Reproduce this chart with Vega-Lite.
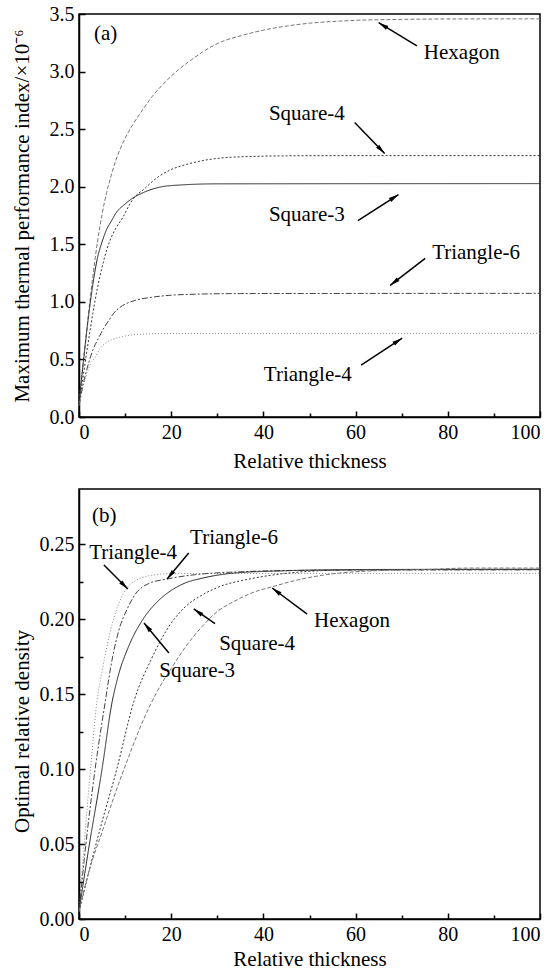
{
  "$schema": "https://vega.github.io/schema/vega-lite/v6.json",
  "background": "white",
  "padding": {"left": 10, "top": 3, "right": 2, "bottom": 0},
  "spacing": 72,
  "bounds": "flush",
  "config": {
    "view": {"stroke": "black", "strokeWidth": 1.5},
    "font": "Liberation Serif",
    "axis": {
      "grid": false,
      "domainColor": "black",
      "domainWidth": 1.5,
      "tickColor": "black",
      "tickWidth": 1.5,
      "labelFont": "Liberation Serif",
      "labelFontSize": 20,
      "labelColor": "black",
      "titleFont": "Liberation Serif",
      "titleFontSize": 21,
      "titleFontWeight": "normal",
      "titleColor": "black",
      "labelPadding": 11
    }
  },
  "datasets": {
    "curvesA": [
      {"s": "Hexagon", "x": 0, "y": 0.12}, {"s": "Hexagon", "x": 1, "y": 0.5}, {"s": "Hexagon", "x": 2, "y": 0.88}, {"s": "Hexagon", "x": 3, "y": 1.22}, {"s": "Hexagon", "x": 4, "y": 1.52}, {"s": "Hexagon", "x": 5, "y": 1.76}, {"s": "Hexagon", "x": 6, "y": 1.95}, {"s": "Hexagon", "x": 7, "y": 2.1}, {"s": "Hexagon", "x": 8, "y": 2.23}, {"s": "Hexagon", "x": 10, "y": 2.42}, {"s": "Hexagon", "x": 12, "y": 2.56}, {"s": "Hexagon", "x": 14, "y": 2.68}, {"s": "Hexagon", "x": 16, "y": 2.79}, {"s": "Hexagon", "x": 18, "y": 2.88}, {"s": "Hexagon", "x": 20, "y": 2.96}, {"s": "Hexagon", "x": 22, "y": 3.03}, {"s": "Hexagon", "x": 25, "y": 3.12}, {"s": "Hexagon", "x": 28, "y": 3.2}, {"s": "Hexagon", "x": 31, "y": 3.26}, {"s": "Hexagon", "x": 35, "y": 3.31}, {"s": "Hexagon", "x": 40, "y": 3.36}, {"s": "Hexagon", "x": 45, "y": 3.395}, {"s": "Hexagon", "x": 50, "y": 3.42}, {"s": "Hexagon", "x": 55, "y": 3.435}, {"s": "Hexagon", "x": 60, "y": 3.445}, {"s": "Hexagon", "x": 70, "y": 3.453}, {"s": "Hexagon", "x": 80, "y": 3.457}, {"s": "Hexagon", "x": 100, "y": 3.458},
      {"s": "Square-4", "x": 0, "y": 0.1}, {"s": "Square-4", "x": 1, "y": 0.38}, {"s": "Square-4", "x": 2, "y": 0.65}, {"s": "Square-4", "x": 3, "y": 0.9}, {"s": "Square-4", "x": 4, "y": 1.12}, {"s": "Square-4", "x": 5, "y": 1.3}, {"s": "Square-4", "x": 6, "y": 1.45}, {"s": "Square-4", "x": 7, "y": 1.56}, {"s": "Square-4", "x": 8, "y": 1.64}, {"s": "Square-4", "x": 9.3, "y": 1.72}, {"s": "Square-4", "x": 11.5, "y": 1.88}, {"s": "Square-4", "x": 14.4, "y": 1.99}, {"s": "Square-4", "x": 17, "y": 2.08}, {"s": "Square-4", "x": 19.5, "y": 2.14}, {"s": "Square-4", "x": 23, "y": 2.19}, {"s": "Square-4", "x": 26.7, "y": 2.226}, {"s": "Square-4", "x": 31, "y": 2.25}, {"s": "Square-4", "x": 37, "y": 2.262}, {"s": "Square-4", "x": 45, "y": 2.268}, {"s": "Square-4", "x": 60, "y": 2.27}, {"s": "Square-4", "x": 100, "y": 2.27},
      {"s": "Square-3", "x": 0, "y": 0.12}, {"s": "Square-3", "x": 1, "y": 0.5}, {"s": "Square-3", "x": 2, "y": 0.85}, {"s": "Square-3", "x": 3, "y": 1.15}, {"s": "Square-3", "x": 4, "y": 1.38}, {"s": "Square-3", "x": 5, "y": 1.52}, {"s": "Square-3", "x": 6, "y": 1.63}, {"s": "Square-3", "x": 7, "y": 1.7}, {"s": "Square-3", "x": 8, "y": 1.77}, {"s": "Square-3", "x": 10, "y": 1.85}, {"s": "Square-3", "x": 12, "y": 1.91}, {"s": "Square-3", "x": 14, "y": 1.95}, {"s": "Square-3", "x": 16, "y": 1.98}, {"s": "Square-3", "x": 18, "y": 2.0}, {"s": "Square-3", "x": 22, "y": 2.015}, {"s": "Square-3", "x": 30, "y": 2.025}, {"s": "Square-3", "x": 100, "y": 2.027},
      {"s": "Triangle-6", "x": 0, "y": 0.1}, {"s": "Triangle-6", "x": 1, "y": 0.3}, {"s": "Triangle-6", "x": 2.1, "y": 0.47}, {"s": "Triangle-6", "x": 3, "y": 0.58}, {"s": "Triangle-6", "x": 4.3, "y": 0.69}, {"s": "Triangle-6", "x": 5.5, "y": 0.78}, {"s": "Triangle-6", "x": 6.5, "y": 0.84}, {"s": "Triangle-6", "x": 7.5, "y": 0.9}, {"s": "Triangle-6", "x": 8.6, "y": 0.944}, {"s": "Triangle-6", "x": 10, "y": 0.98}, {"s": "Triangle-6", "x": 12.2, "y": 1.013}, {"s": "Triangle-6", "x": 15.8, "y": 1.04}, {"s": "Triangle-6", "x": 20, "y": 1.058}, {"s": "Triangle-6", "x": 25, "y": 1.066}, {"s": "Triangle-6", "x": 35, "y": 1.072}, {"s": "Triangle-6", "x": 100, "y": 1.074},
      {"s": "Triangle-4", "x": 0, "y": 0.1}, {"s": "Triangle-4", "x": 0.8, "y": 0.25}, {"s": "Triangle-4", "x": 1.7, "y": 0.38}, {"s": "Triangle-4", "x": 2.5, "y": 0.46}, {"s": "Triangle-4", "x": 3.5, "y": 0.52}, {"s": "Triangle-4", "x": 4.5, "y": 0.59}, {"s": "Triangle-4", "x": 5.7, "y": 0.64}, {"s": "Triangle-4", "x": 7, "y": 0.67}, {"s": "Triangle-4", "x": 8.6, "y": 0.69}, {"s": "Triangle-4", "x": 11, "y": 0.71}, {"s": "Triangle-4", "x": 13.7, "y": 0.72}, {"s": "Triangle-4", "x": 20, "y": 0.725}, {"s": "Triangle-4", "x": 100, "y": 0.727}
    ],
    "curvesB": [
      {"s": "Triangle-4", "x": 0, "y": 0.005}, {"s": "Triangle-4", "x": 1, "y": 0.045}, {"s": "Triangle-4", "x": 2.5, "y": 0.1}, {"s": "Triangle-4", "x": 3.9, "y": 0.145}, {"s": "Triangle-4", "x": 5, "y": 0.165}, {"s": "Triangle-4", "x": 6.5, "y": 0.188}, {"s": "Triangle-4", "x": 8, "y": 0.205}, {"s": "Triangle-4", "x": 10.4, "y": 0.2207}, {"s": "Triangle-4", "x": 12.5, "y": 0.226}, {"s": "Triangle-4", "x": 15, "y": 0.2287}, {"s": "Triangle-4", "x": 20, "y": 0.2303}, {"s": "Triangle-4", "x": 100, "y": 0.2305},
      {"s": "Triangle-6", "x": 0, "y": 0.005}, {"s": "Triangle-6", "x": 1.5, "y": 0.05}, {"s": "Triangle-6", "x": 3.5, "y": 0.1}, {"s": "Triangle-6", "x": 5.7, "y": 0.145}, {"s": "Triangle-6", "x": 7, "y": 0.17}, {"s": "Triangle-6", "x": 8.6, "y": 0.192}, {"s": "Triangle-6", "x": 10.5, "y": 0.207}, {"s": "Triangle-6", "x": 12.2, "y": 0.2165}, {"s": "Triangle-6", "x": 15, "y": 0.2235}, {"s": "Triangle-6", "x": 19.1, "y": 0.2267}, {"s": "Triangle-6", "x": 25, "y": 0.2295}, {"s": "Triangle-6", "x": 35, "y": 0.2315}, {"s": "Triangle-6", "x": 50, "y": 0.2325}, {"s": "Triangle-6", "x": 100, "y": 0.2328},
      {"s": "Square-3", "x": 0, "y": 0.005}, {"s": "Square-3", "x": 2, "y": 0.045}, {"s": "Square-3", "x": 5, "y": 0.1}, {"s": "Square-3", "x": 7.2, "y": 0.145}, {"s": "Square-3", "x": 8.5, "y": 0.162}, {"s": "Square-3", "x": 10.8, "y": 0.182}, {"s": "Square-3", "x": 13.7, "y": 0.199}, {"s": "Square-3", "x": 16.5, "y": 0.21}, {"s": "Square-3", "x": 19.5, "y": 0.218}, {"s": "Square-3", "x": 23, "y": 0.224}, {"s": "Square-3", "x": 26.7, "y": 0.2272}, {"s": "Square-3", "x": 33.8, "y": 0.2307}, {"s": "Square-3", "x": 45, "y": 0.2322}, {"s": "Square-3", "x": 60, "y": 0.233}, {"s": "Square-3", "x": 100, "y": 0.2332},
      {"s": "Square-4", "x": 0, "y": 0.005}, {"s": "Square-4", "x": 4.3, "y": 0.057}, {"s": "Square-4", "x": 8.2, "y": 0.1}, {"s": "Square-4", "x": 11.9, "y": 0.145}, {"s": "Square-4", "x": 15.8, "y": 0.174}, {"s": "Square-4", "x": 19.5, "y": 0.195}, {"s": "Square-4", "x": 23, "y": 0.208}, {"s": "Square-4", "x": 26.7, "y": 0.216}, {"s": "Square-4", "x": 30, "y": 0.221}, {"s": "Square-4", "x": 37.5, "y": 0.227}, {"s": "Square-4", "x": 45, "y": 0.2305}, {"s": "Square-4", "x": 55, "y": 0.2325}, {"s": "Square-4", "x": 70, "y": 0.233}, {"s": "Square-4", "x": 100, "y": 0.233},
      {"s": "Hexagon", "x": 0, "y": 0.005}, {"s": "Hexagon", "x": 2, "y": 0.03}, {"s": "Hexagon", "x": 5, "y": 0.058}, {"s": "Hexagon", "x": 8, "y": 0.085}, {"s": "Hexagon", "x": 11, "y": 0.11}, {"s": "Hexagon", "x": 14, "y": 0.133}, {"s": "Hexagon", "x": 17, "y": 0.152}, {"s": "Hexagon", "x": 20, "y": 0.167}, {"s": "Hexagon", "x": 23, "y": 0.181}, {"s": "Hexagon", "x": 26.7, "y": 0.195}, {"s": "Hexagon", "x": 30, "y": 0.205}, {"s": "Hexagon", "x": 33.8, "y": 0.212}, {"s": "Hexagon", "x": 38, "y": 0.218}, {"s": "Hexagon", "x": 41.9, "y": 0.2215}, {"s": "Hexagon", "x": 46, "y": 0.225}, {"s": "Hexagon", "x": 50.5, "y": 0.228}, {"s": "Hexagon", "x": 56, "y": 0.2305}, {"s": "Hexagon", "x": 62.9, "y": 0.232}, {"s": "Hexagon", "x": 75, "y": 0.233}, {"s": "Hexagon", "x": 85, "y": 0.234}, {"s": "Hexagon", "x": 100, "y": 0.234}
    ],
    "annA": [
      {"label": "Hexagon", "tx": 74.8, "ty": 3.162, "x1": 73.3, "y1": 3.223, "x2": 65.0, "y2": 3.425, "angle": 302},
      {"label": "Square-4", "tx": 41.2, "ty": 2.633, "x1": 59.8, "y1": 2.558, "x2": 66.3, "y2": 2.289, "angle": 136},
      {"label": "Square-3", "tx": 41.2, "ty": 1.758, "x1": 60.5, "y1": 1.706, "x2": 69.3, "y2": 1.932, "angle": 57},
      {"label": "Triangle-6", "tx": 76.6, "ty": 1.42, "x1": 75.1, "y1": 1.377, "x2": 67.5, "y2": 1.143, "angle": 232},
      {"label": "Triangle-4", "tx": 40.1, "ty": 0.363, "x1": 61.2, "y1": 0.45, "x2": 70.1, "y2": 0.684, "angle": 57}
    ],
    "annB": [
      {"label": "Triangle-4", "tx": 2.2, "ty": 0.244, "x1": 5.4, "y1": 0.236, "x2": 10.6, "y2": 0.22, "angle": 135},
      {"label": "Triangle-6", "tx": 24.1, "ty": 0.254, "x1": 23.8, "y1": 0.244, "x2": 19.1, "y2": 0.2267, "angle": 220},
      {"label": "Square-3", "tx": 17.4, "ty": 0.1653, "x1": 19.5, "y1": 0.1773, "x2": 14.1, "y2": 0.1973, "angle": 320},
      {"label": "Square-4", "tx": 30.4, "ty": 0.1833, "x1": 29.5, "y1": 0.197, "x2": 24.9, "y2": 0.2067, "angle": 305},
      {"label": "Hexagon", "tx": 51, "ty": 0.1987, "x1": 49.5, "y1": 0.2033, "x2": 41.9, "y2": 0.2207, "angle": 307}
    ]
  },
  "vconcat": [
    {
      "width": 461,
      "height": 403,
      "layer": [
        {
          "data": {"name": "curvesA"},
          "mark": {"type": "line", "strokeWidth": 1, "interpolate": "monotone"},
          "encoding": {
            "x": {"field": "x", "type": "quantitative", "title": "Relative thickness",
              "scale": {"domain": [0, 100], "nice": false, "zero": false},
              "axis": {"values": [0, 10, 20, 30, 40, 50, 60, 70, 80, 90, 100],
                "labelExpr": "datum.value % 20 === 0 ? datum.label : ''",
                "tickSize": {"condition": {"test": "datum.value % 20 === 0", "value": -6}, "value": -4},
                "titleY": 44, "titleBaseline": "middle"}},
            "y": {"field": "y", "type": "quantitative", "title": "Maximum thermal performance index/×10⁻⁶",
              "scale": {"domain": [0, 3.5], "nice": false, "zero": false},
              "axis": {"values": [0, 0.25, 0.5, 0.75, 1, 1.25, 1.5, 1.75, 2, 2.25, 2.5, 2.75, 3, 3.25, 3.5],
                "labelExpr": "datum.value % 0.5 === 0 ? format(datum.value, '.1f') : ''",
                "tickSize": {"condition": {"test": "datum.value % 0.5 === 0", "value": -6}, "value": -4},
                "titleX": -57, "titleY": 201.5, "titleBaseline": "middle"}},
            "color": {"field": "s", "type": "nominal", "legend": null,
              "scale": {"domain": ["Hexagon", "Square-4", "Square-3", "Triangle-6", "Triangle-4"], "range": ["#777777", "#333333", "#222222", "#444444", "#888888"]}},
            "strokeDash": {"field": "s", "type": "nominal", "legend": null,
              "scale": {"domain": ["Hexagon", "Square-4", "Square-3", "Triangle-6", "Triangle-4"], "range": [[4, 2], [2, 2], [1, 0], [6, 2, 2, 2], [1, 2]]}}
          }
        },
        {
          "data": {"name": "annA"},
          "mark": {"type": "rule", "strokeWidth": 1.5, "color": "black"},
          "encoding": {
            "x": {"field": "x1", "type": "quantitative", "title": "Relative thickness"},
            "y": {"field": "y1", "type": "quantitative", "title": "Maximum thermal performance index/×10⁻⁶"},
            "x2": {"field": "x2"},
            "y2": {"field": "y2"}
          }
        },
        {
          "data": {"name": "annA"},
          "mark": {"type": "point", "shape": "M0,0L0.45,2L-0.45,2Z", "filled": true, "color": "black", "opacity": 1, "size": 100},
          "encoding": {
            "x": {"field": "x2", "type": "quantitative", "title": "Relative thickness"},
            "y": {"field": "y2", "type": "quantitative", "title": "Maximum thermal performance index/×10⁻⁶"},
            "angle": {"field": "angle", "type": "quantitative", "scale": null}
          }
        },
        {
          "data": {"name": "annA"},
          "mark": {"type": "text", "align": "left", "baseline": "middle", "fontSize": 21, "font": "Liberation Serif", "color": "black"},
          "encoding": {
            "x": {"field": "tx", "type": "quantitative", "title": "Relative thickness"},
            "y": {"field": "ty", "type": "quantitative", "title": "Maximum thermal performance index/×10⁻⁶"},
            "text": {"field": "label"}
          }
        },
        {
          "data": {"values": [{"px": 3.25, "py": 3.327, "t": "(a)"}]},
          "mark": {"type": "text", "align": "left", "baseline": "middle", "fontSize": 21, "font": "Liberation Serif", "color": "black"},
          "encoding": {
            "x": {"field": "px", "type": "quantitative", "title": "Relative thickness"},
            "y": {"field": "py", "type": "quantitative", "title": "Maximum thermal performance index/×10⁻⁶"},
            "text": {"field": "t"}
          }
        }
      ]
    },
    {
      "width": 461,
      "height": 430,
      "layer": [
        {
          "data": {"name": "curvesB"},
          "mark": {"type": "line", "strokeWidth": 1, "interpolate": "monotone"},
          "encoding": {
            "x": {"field": "x", "type": "quantitative", "title": "Relative thickness",
              "scale": {"domain": [0, 100], "nice": false, "zero": false},
              "axis": {"values": [0, 10, 20, 30, 40, 50, 60, 70, 80, 90, 100],
                "labelExpr": "datum.value % 20 === 0 ? datum.label : ''",
                "tickSize": {"condition": {"test": "datum.value % 20 === 0", "value": -6}, "value": -4},
                "titleY": 40, "titleBaseline": "middle"}},
            "y": {"field": "y", "type": "quantitative", "title": "Optimal relative density",
              "scale": {"domain": [0, 0.2867], "nice": false, "zero": false},
              "axis": {"values": [0, 0.025, 0.05, 0.075, 0.1, 0.125, 0.15, 0.175, 0.2, 0.225, 0.25],
                "labelExpr": "abs(datum.value * 20 - round(datum.value * 20)) < 0.000001 ? format(datum.value, '.2f') : ''",
                "tickSize": {"condition": {"test": "abs(datum.value * 20 - round(datum.value * 20)) < 0.000001", "value": -6}, "value": -4},
                "titleX": -57, "titleY": 242, "titleBaseline": "middle"}},
            "color": {"field": "s", "type": "nominal", "legend": null,
              "scale": {"domain": ["Hexagon", "Square-4", "Square-3", "Triangle-6", "Triangle-4"], "range": ["#777777", "#333333", "#222222", "#444444", "#888888"]}},
            "strokeDash": {"field": "s", "type": "nominal", "legend": null,
              "scale": {"domain": ["Hexagon", "Square-4", "Square-3", "Triangle-6", "Triangle-4"], "range": [[4, 2], [2, 2], [1, 0], [6, 2, 2, 2], [1, 2]]}}
          }
        },
        {
          "data": {"name": "annB"},
          "mark": {"type": "rule", "strokeWidth": 1.5, "color": "black"},
          "encoding": {
            "x": {"field": "x1", "type": "quantitative", "title": "Relative thickness"},
            "y": {"field": "y1", "type": "quantitative", "title": "Optimal relative density"},
            "x2": {"field": "x2"},
            "y2": {"field": "y2"}
          }
        },
        {
          "data": {"name": "annB"},
          "mark": {"type": "point", "shape": "M0,0L0.45,2L-0.45,2Z", "filled": true, "color": "black", "opacity": 1, "size": 100},
          "encoding": {
            "x": {"field": "x2", "type": "quantitative", "title": "Relative thickness"},
            "y": {"field": "y2", "type": "quantitative", "title": "Optimal relative density"},
            "angle": {"field": "angle", "type": "quantitative", "scale": null}
          }
        },
        {
          "data": {"name": "annB"},
          "mark": {"type": "text", "align": "left", "baseline": "middle", "fontSize": 21, "font": "Liberation Serif", "color": "black"},
          "encoding": {
            "x": {"field": "tx", "type": "quantitative", "title": "Relative thickness"},
            "y": {"field": "ty", "type": "quantitative", "title": "Optimal relative density"},
            "text": {"field": "label"}
          }
        },
        {
          "data": {"values": [{"px": 2.8, "py": 0.2687, "t": "(b)"}]},
          "mark": {"type": "text", "align": "left", "baseline": "middle", "fontSize": 21, "font": "Liberation Serif", "color": "black"},
          "encoding": {
            "x": {"field": "px", "type": "quantitative", "title": "Relative thickness"},
            "y": {"field": "py", "type": "quantitative", "title": "Optimal relative density"},
            "text": {"field": "t"}
          }
        }
      ]
    }
  ]
}
